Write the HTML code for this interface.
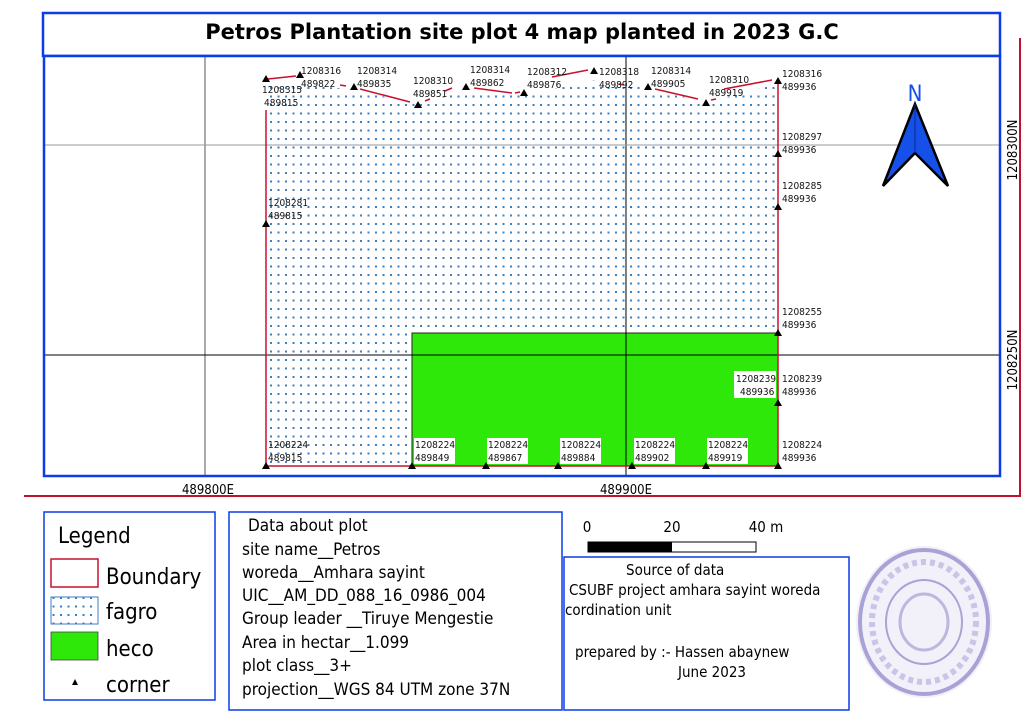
<!DOCTYPE html>
<html><head><meta charset="utf-8"><style>
html,body{margin:0;padding:0;background:#fff;width:1024px;height:724px;overflow:hidden}
svg{display:block}
text{font-family:"DejaVu Sans Condensed","DejaVu Sans","Liberation Sans",sans-serif}
.l{font-size:10px;fill:#111}
.b{font-size:18px;fill:#000}
</style></head><body>
<svg width="1024" height="724" viewBox="0 0 1024 724" xmlns="http://www.w3.org/2000/svg">
<defs>
<pattern id="dots" width="7.5" height="8.5" patternUnits="userSpaceOnUse" x="268" y="84">
<rect x="2" y="3" width="2" height="2" fill="#3c7fc2"/>
</pattern>
</defs>
<!-- outer red frame -->
<polyline points="24,496 1020,496 1020,38" fill="none" stroke="#c0102a" stroke-width="2"/>
<!-- title -->
<rect x="43" y="13" width="957" height="43" fill="#fff" stroke="#0a3de8" stroke-width="2.5"/>
<text x="522" y="39" text-anchor="middle" style="font-family:'DejaVu Sans',sans-serif;font-weight:bold;font-size:21px">Petros Plantation site plot 4 map planted in 2023 G.C</text>
<!-- map frame -->
<rect x="44" y="56" width="956" height="420" fill="#fff"/>
<!-- fagro fill -->
<polygon points="266,84 300,84 355,90 418,104 466,90 524,96 594,80 648,88 706,102 778,84 778,466 266,466" fill="url(#dots)"/>
<!-- heco -->
<rect x="412" y="333" width="366" height="133" fill="#2ee80a"/>
<polyline points="412,466 412,333 778,333" fill="none" stroke="#222" stroke-width="1"/>
<!-- grid -->
<line x1="205" y1="57" x2="205" y2="475" stroke="#555" stroke-width="1"/>
<line x1="626" y1="57" x2="626" y2="475" stroke="#000" stroke-width="1"/>
<line x1="45" y1="145" x2="999" y2="145" stroke="#999" stroke-width="1"/>
<line x1="45" y1="355" x2="999" y2="355" stroke="#000" stroke-width="1"/>
<!-- boundary -->
<g stroke="#c8102e" stroke-width="1.5" fill="none">
<line x1="266" y1="110" x2="266" y2="466"/>
<line x1="778" y1="80" x2="778" y2="466"/>
<line x1="266" y1="466" x2="778" y2="466"/>
<line x1="268" y1="79" x2="296" y2="76"/>
<line x1="340" y1="85" x2="346" y2="86"/>
<line x1="360" y1="89" x2="410" y2="102"/>
<line x1="425" y1="101" x2="430" y2="99"/>
<line x1="445" y1="91" x2="452" y2="88"/>
<line x1="474" y1="88" x2="512" y2="93"/>
<line x1="515" y1="93" x2="520" y2="92"/>
<line x1="552" y1="77" x2="588" y2="70"/>
<line x1="619" y1="84" x2="624" y2="85"/>
<line x1="655" y1="89" x2="698" y2="99"/>
<line x1="711" y1="100" x2="716" y2="99"/>
<line x1="724" y1="89" x2="772" y2="80"/>
</g>
<!-- corners -->
<g fill="#000">
<path d="M266,75l-4,7h8z"/><path d="M300,71l-4,7h8z"/><path d="M354,83l-4,7h8z"/><path d="M418,101l-4,7h8z"/>
<path d="M466,83l-4,7h8z"/><path d="M524,89l-4,7h8z"/><path d="M594,67l-4,7h8z"/><path d="M648,83l-4,7h8z"/>
<path d="M706,99l-4,7h8z"/><path d="M778,77l-4,7h8z"/>
<path d="M778,150l-4,7h8z"/><path d="M778,203l-4,7h8z"/><path d="M778,329l-4,7h8z"/><path d="M778,399l-4,7h8z"/>
<path d="M266,220l-4,7h8z"/>
<path d="M266,462l-4,7h8z"/><path d="M412,462l-4,7h8z"/><path d="M486,462l-4,7h8z"/><path d="M558,462l-4,7h8z"/>
<path d="M632,462l-4,7h8z"/><path d="M706,462l-4,7h8z"/><path d="M778,462l-4,7h8z"/>
</g>
<!-- labels -->
<g class="l">
<text x="262" y="93">1208315</text><text x="264" y="106">489815</text>
<text x="301" y="74">1208316</text><text x="301" y="87">489822</text>
<text x="357" y="74">1208314</text><text x="357" y="87">489835</text>
<text x="413" y="84">1208310</text><text x="413" y="97">489851</text>
<text x="470" y="73">1208314</text><text x="470" y="86">489862</text>
<text x="527" y="75">1208312</text><text x="527" y="88">489876</text>
<text x="599" y="75">1208318</text><text x="599" y="88">489892</text>
<text x="651" y="74">1208314</text><text x="651" y="87">489905</text>
<text x="709" y="83">1208310</text><text x="709" y="96">489919</text>
<text x="782" y="77">1208316</text><text x="782" y="90">489936</text>
<text x="782" y="140">1208297</text><text x="782" y="153">489936</text>
<text x="782" y="189">1208285</text><text x="782" y="202">489936</text>
<text x="268" y="206">1208281</text><text x="268" y="219">489815</text>
<text x="782" y="315">1208255</text><text x="782" y="328">489936</text>
<text x="782" y="382">1208239</text><text x="782" y="395">489936</text>
<text x="782" y="448">1208224</text><text x="782" y="461">489936</text>
<text x="268" y="448">1208224</text><text x="268" y="461">489815</text>
</g>
<g>
<rect x="734" y="371" width="42" height="27" fill="#fff"/>
<rect x="414" y="438" width="41" height="26" fill="#fff"/><rect x="487" y="438" width="41" height="26" fill="#fff"/>
<rect x="560" y="438" width="41" height="26" fill="#fff"/><rect x="634" y="438" width="41" height="26" fill="#fff"/>
<rect x="707" y="438" width="41" height="26" fill="#fff"/>
</g>
<g class="l">
<text x="736" y="382">1208239</text><text x="740" y="395">489936</text>
<text x="415" y="448">1208224</text><text x="415" y="461">489849</text>
<text x="488" y="448">1208224</text><text x="488" y="461">489867</text>
<text x="561" y="448">1208224</text><text x="561" y="461">489884</text>
<text x="635" y="448">1208224</text><text x="635" y="461">489902</text>
<text x="708" y="448">1208224</text><text x="708" y="461">489919</text>
</g>
<!-- north arrow -->
<text x="915" y="101" text-anchor="middle" style="font-size:22px;fill:#1550e8">N</text>
<polygon points="915,104 883,186 915,153 948,186" fill="#1550e8" stroke="#000" stroke-width="2.5" stroke-linejoin="miter"/>
<line x1="915" y1="104" x2="915" y2="153" stroke="#0a2a90" stroke-width="1"/>
<rect x="44" y="56" width="956" height="420" fill="none" stroke="#0a3de8" stroke-width="2.5"/>
<!-- axis labels -->
<text x="208" y="494" text-anchor="middle" style="font-size:13px">489800E</text>
<text x="626" y="494" text-anchor="middle" style="font-size:13px">489900E</text>
<text transform="translate(1017,150) rotate(-90)" text-anchor="middle" style="font-size:13px">1208300N</text>
<text transform="translate(1017,360) rotate(-90)" text-anchor="middle" style="font-size:13px">1208250N</text>
<!-- legend -->
<rect x="44" y="512" width="171" height="188" fill="#fff" stroke="#0a3de8" stroke-width="1.5"/>
<text x="58" y="543" style="font-size:22px">Legend</text>
<rect x="51" y="559" width="47" height="28" fill="#fff" stroke="#c8102e" stroke-width="1.5"/>
<text x="106" y="584" style="font-size:22px">Boundary</text>
<rect x="51" y="597" width="47" height="27" fill="url(#dots)" stroke="#3c7fc2" stroke-width="1"/>
<text x="106" y="619" style="font-size:22px">fagro</text>
<rect x="51" y="632" width="47" height="28" fill="#2ee80a" stroke="#444" stroke-width="0.8"/>
<text x="106" y="656" style="font-size:22px">heco</text>
<path d="M75,679l-3,6h6z" fill="#000"/>
<text x="106" y="692" style="font-size:22px">corner</text>
<!-- data box -->
<rect x="229" y="512" width="333" height="198" fill="#fff" stroke="#0a3de8" stroke-width="1.5"/>
<g style="font-size:17px">
<text x="248" y="531">Data about plot</text>
<text x="242" y="555">site name__Petros</text>
<text x="242" y="578">woreda__Amhara sayint</text>
<text x="242" y="601">UIC__AM_DD_088_16_0986_004</text>
<text x="242" y="624">Group leader __Tiruye Mengestie</text>
<text x="242" y="648">Area in hectar__1.099</text>
<text x="242" y="671">plot class__3+</text>
<text x="242" y="695">projection__WGS 84 UTM zone 37N</text>
</g>
<!-- scale bar -->
<text x="587" y="532" text-anchor="middle" style="font-size:15px">0</text>
<text x="672" y="532" text-anchor="middle" style="font-size:15px">20</text>
<text x="766" y="532" text-anchor="middle" style="font-size:15px">40 m</text>
<rect x="588" y="542" width="168" height="10" fill="#fff" stroke="#000" stroke-width="1"/>
<rect x="588" y="542" width="84" height="10" fill="#000"/>
<!-- source -->
<rect x="564" y="557" width="285" height="153" fill="#fff" stroke="#0a3de8" stroke-width="1.5"/>
<g style="font-size:15px">
<text x="626" y="575">Source of data</text>
<text x="569" y="595">CSUBF project amhara sayint woreda</text>
<text x="565" y="615">cordination unit</text>
<text x="575" y="657">prepared by :- Hassen abaynew</text>
<text x="678" y="677">June 2023</text>
</g>
<!-- stamp -->
<ellipse cx="924" cy="622" rx="68" ry="76" fill="#f2f0f8"/>
<ellipse cx="924" cy="622" rx="64" ry="72" fill="none" stroke="#8a80c8" stroke-width="4" opacity="0.7"/>
<ellipse cx="924" cy="622" rx="38" ry="42" fill="none" stroke="#8a80c8" stroke-width="2" opacity="0.7"/>
<ellipse cx="924" cy="622" rx="24" ry="28" fill="none" stroke="#9a90d0" stroke-width="3" opacity="0.6"/>
<ellipse cx="924" cy="622" rx="52" ry="60" fill="none" stroke="#a098d8" stroke-width="6" stroke-dasharray="5 4" opacity="0.5"/>
</svg>
</body></html>
